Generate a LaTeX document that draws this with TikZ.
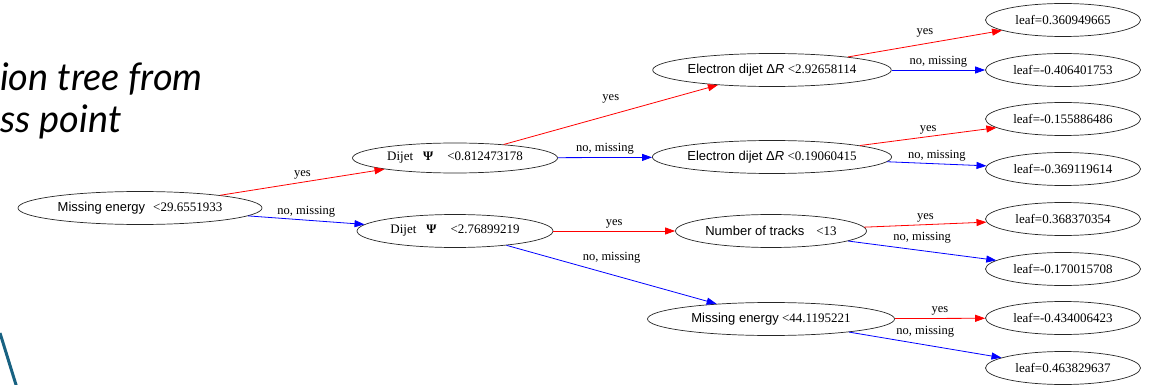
\documentclass[tikz,border=0pt]{standalone}
\usepackage{fontspec}
\setmainfont{Liberation Serif}
\setsansfont{Liberation Sans}
\newfontfamily\titlefont{Lato}
\usepackage{tikz}
\usetikzlibrary{shapes.geometric}
\usetikzlibrary{arrows.meta}

\definecolor{slideteal}{RGB}{24,98,130}

\tikzset{
  test/.style={ellipse, draw=black!85, line width=0.7pt, inner sep=0pt, minimum height=33pt, font=\fontsize{13}{15}\selectfont},
  leaf/.style={test, minimum width=155pt},
  yesarrow/.style={red, line width=0.8pt, -{Triangle[length=10pt,width=7pt]}},
  noarrow/.style={blue, line width=0.8pt, -{Triangle[length=10pt,width=7pt]}},
  lbl/.style={black, font=\fontsize{12.5}{15}\selectfont, inner sep=1.5pt, above=1pt},
  steeplbl/.style={lbl, above=9pt}
}

\begin{document}
\begin{tikzpicture}[x=1pt, y=-1pt]
\useasboundingbox (0,0) rectangle (1154,385);
\node[anchor=base west, inner sep=0pt, font=\titlefont\itshape\fontsize{38}{42}\selectfont] (title1) at (0,91) {ion tree from};
\node[anchor=base west, inner sep=0pt, font=\titlefont\itshape\fontsize{38}{42}\selectfont] (title2) at (0,133) {ss point};
\draw[slideteal, line width=3pt] (0,333) -- (17,388);

\node[test, minimum width=244pt] (root) at (140,208) {{\sffamily Missing energy}\hspace{8pt}<29.6551933};
\node[test, minimum width=205pt, minimum height=30pt] (dA) at (455,158) {Dijet\hspace{10pt}\textbf{Ψ}\hspace{14pt}<0.812473178};
\node[test, minimum width=196pt] (dB) at (455,231) {Dijet\hspace{10pt}\textbf{Ψ}\hspace{14pt}<2.76899219};
\node[test, minimum width=232pt] (eA) at (772,70) {{\sffamily Electron dijet Δ\textit{R}} <2.92658114};
\node[test, minimum width=232pt] (eB) at (772,157) {{\sffamily Electron dijet Δ\textit{R}} <0.19060415};
\node[test, minimum width=191pt] (tracks) at (771,231) {{\sffamily Number of tracks}\hspace{12pt}<13};
\node[test, minimum width=247pt] (mB) at (771,319) {{\sffamily Missing energy} <44.1195221};

\node[leaf] (l1) at (1063,20) {leaf=0.360949665};
\node[leaf] (l2) at (1063,70) {leaf=-0.406401753};
\node[leaf] (l3) at (1063,119) {leaf=-0.155886486};
\node[leaf] (l4) at (1063,169) {leaf=-0.369119614};
\node[leaf] (l5) at (1063,219) {leaf=0.368370354};
\node[leaf] (l6) at (1063,269) {leaf=-0.170015708};
\node[leaf] (l7) at (1063,318) {leaf=-0.434006423};
\node[leaf] (l8) at (1063,368) {leaf=0.463829637};

\draw[yesarrow] (root) -- node[lbl] {yes} (dA);
\draw[noarrow] (root) -- node[lbl] {no, missing} (dB);
\draw[yesarrow] (dA) -- node[steeplbl] {yes} (eA);
\draw[noarrow] (dA) -- node[lbl] {no, missing} (eB);
\draw[yesarrow] (dB) -- node[lbl] {yes} (tracks);
\draw[noarrow] (dB) -- node[steeplbl] {no, missing} (mB);
\draw[yesarrow] (eA) -- node[lbl, above=4pt] {yes} (l1);
\draw[noarrow] (eA) -- node[lbl] {no, missing} (l2);
\draw[yesarrow] (eB) -- node[lbl] {yes} (l3);
\draw[noarrow] (eB) -- node[lbl] {no, missing} (l4);
\draw[yesarrow] (tracks) -- node[lbl] {yes} (l5);
\draw[noarrow] (tracks) -- node[lbl, above=5pt] {no, missing} (l6);
\draw[yesarrow] (mB) -- node[lbl] {yes} (l7);
\draw[noarrow] (mB) -- node[lbl, above=5pt] {no, missing} (l8);
\end{tikzpicture}
\end{document}
